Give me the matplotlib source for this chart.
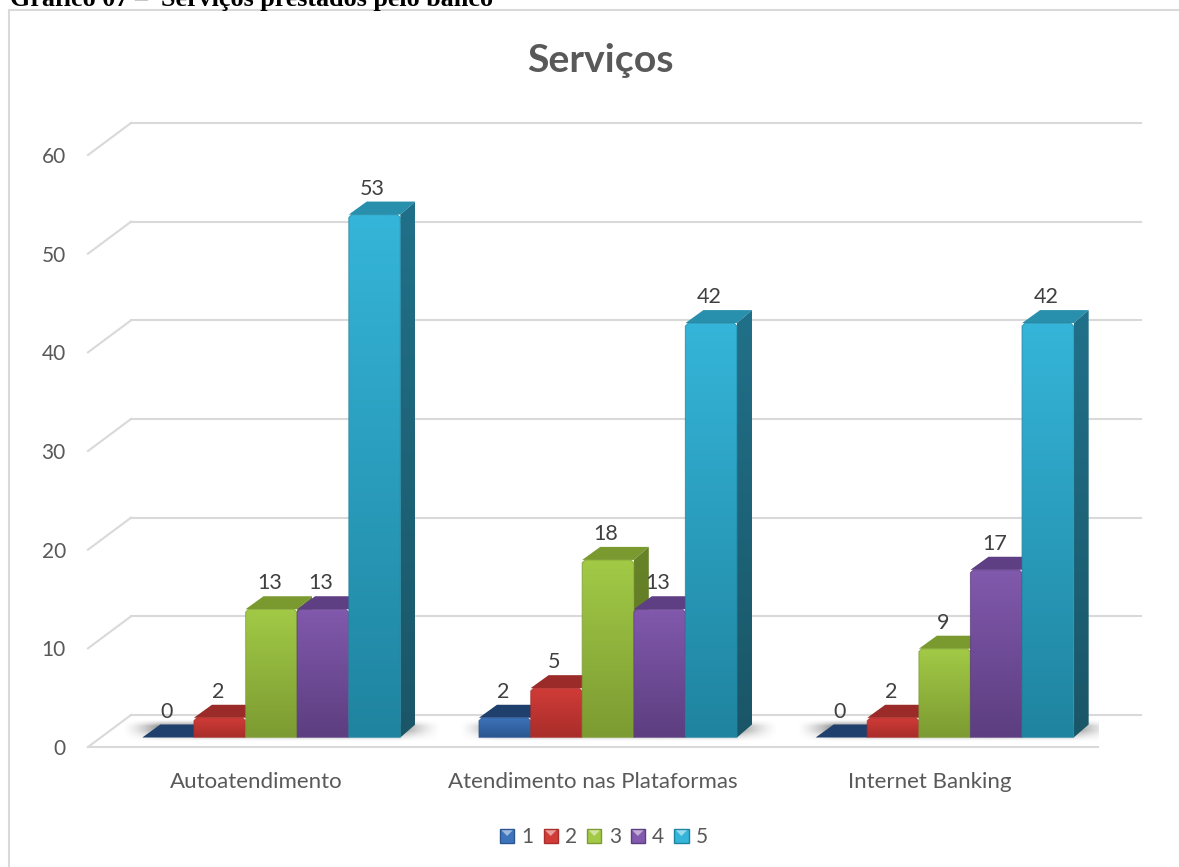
import numpy as np
import matplotlib
matplotlib.use('Agg')
import matplotlib.pyplot as plt
from matplotlib.colors import to_rgb
from matplotlib.legend_handler import HandlerBase
from matplotlib.patches import Patch, Polygon, Rectangle

categorias = ['Autoatendimento', 'Atendimento nas Plataformas', 'Internet Banking']
notas = ['1', '2', '3', '4', '5']
valores_1 = [0, 2, 0]
valores_2 = [2, 5, 2]
valores_3 = [13, 18, 9]
valores_4 = [13, 13, 17]
valores_5 = [53, 42, 42]
ticks_y = [0, 10, 20, 30, 40, 50, 60]

# claro, escuro, tampa, lateral clara, lateral escura
cores = {
    '1': ('#3d74bb', '#2b5690', '#1f3f6c', '#24497a', '#1c3a60'),
    '2': ('#d13c38', '#a92d2a', '#9a2b28', '#8a2523', '#761f1e'),
    '3': ('#a2ca46', '#7c9b32', '#7a9a30', '#688429', '#5a7223'),
    '4': ('#8159ad', '#5d3e80', '#5f3f84', '#503670', '#432d5f'),
    '5': ('#35b5d9', '#1f84a0', '#2890ad', '#217089', '#1a5667'),
}

plt.rcParams['font.family'] = ['Lato', 'DejaVu Sans']

L, A = 1179, 867
fig = plt.figure(figsize=(L / 100, A / 100), dpi=100)
ax = fig.add_axes([88 / L, 1 - 747 / A, 1010 / L, 592 / A])
ax.patch.set_alpha(0)

px_x = 3 / 1010      # unidade de x por pixel
px_y = 60 / 592      # unidade de y por pixel
larg = 51.6 * px_x
desl_x, base = 15 * px_x, 9.5 * px_y
prof_x, prof_y = 15 * px_x, 13 * px_y
fundo_x, fundo_y = 43 * px_x, 32 * px_y


def degrade(verts, c1, c2, z):
    # preenche o poligono com um degrade vertical
    verts = np.array(verts)
    rgb = np.linspace(to_rgb(c1), to_rgb(c2), 64)[:, None, :]
    im = ax.imshow(rgb, aspect='auto', zorder=z, interpolation='bilinear',
                   extent=[verts[:, 0].min(), verts[:, 0].max(), verts[:, 1].min(), verts[:, 1].max()])
    im.set_clip_path(Polygon(verts, transform=ax.transData))


def barra(x0, v, cor, z):
    claro, escuro, tampa, lat1, lat2 = cor
    x1 = x0 + larg
    y1 = base + v
    px, py = prof_x, prof_y
    ax.add_patch(Polygon([(x0, y1), (x0 + px * 1.2, y1 + py), (x1 + px, y1 + py), (x1, y1)],
                         fc=tampa, ec='none', zorder=z, clip_on=False))
    if v == 0:
        return
    degrade([(x1, base), (x1 + px, base + py), (x1 + px, y1 + py), (x1, y1)], lat1, lat2, z)
    cx, cy = 3 * px_x, 3 * px_y
    frente = [(x0, base), (x0, y1 - cy), (x0 + cx, y1), (x1 - cx, y1), (x1, y1 - cy), (x1, base)]
    degrade(frente, claro, escuro, z + 0.1)
    ax.add_patch(Polygon(frente, fc='none', ec=escuro, lw=0.8, alpha=0.7, zorder=z + 0.2, clip_on=False))


def sombra(x0):
    # sombra difusa no piso, embaixo de cada grupo
    xs = np.linspace(0, 1, 200)
    ys = np.linspace(0, 1, 40)
    ax_x = np.clip(np.minimum(xs / 0.12, (1 - xs) / 0.14), 0, 1)
    ax_y = np.clip(np.minimum(ys / 0.5, (1 - ys) / 0.3), 0, 1)
    img = np.zeros((40, 200, 4))
    img[..., :3] = 0.35
    img[..., 3] = (np.outer(ax_y, ax_x) ** 1.5) * 0.7
    ax.imshow(img, aspect='auto', zorder=2, origin='lower', interpolation='bilinear',
              extent=[x0 - 20 * px_x, x0 + 300 * px_x, base - 5 * px_y, base + 17 * px_y])


# paredes e piso
cor_grade = '#d9d9d9'
for t in ticks_y:
    ax.plot([0, fundo_x], [t, t + fundo_y], color=cor_grade, lw=1.5, zorder=1, clip_on=False)
    ax.plot([fundo_x, 3 + fundo_x], [t + fundo_y, t + fundo_y], color=cor_grade, lw=1.5, zorder=1, clip_on=False)
ax.plot([0, 3], [0, 0], color=cor_grade, lw=1.5, zorder=1, clip_on=False)

series = [valores_1, valores_2, valores_3, valores_4, valores_5]
z = 3
for i in range(len(categorias)):
    inicio = i + 0.5 - 2.5 * larg + desl_x
    sombra(inicio)
    for j, serie in enumerate(series):
        x0 = inicio + j * larg
        barra(x0, serie[i], cores[notas[j]], z)
        z += 1
        ax.annotate(str(serie[i]), (x0 + larg / 2, base + serie[i]), xytext=(-2, 26),
                    textcoords='offset pixels', ha='center', va='center',
                    fontsize=15.5, color='#404040', zorder=50, annotation_clip=False)

ax.set_xlim(0, 3)
ax.set_ylim(0, 60)
ax.set_xticks([0.5, 1.5, 2.5])
ax.set_xticklabels(categorias)
ax.set_yticks(ticks_y)
ax.tick_params(length=0, labelsize=15, labelcolor='#595959')
ax.tick_params(axis='x', pad=18, labelsize=16)
ax.tick_params(axis='y', pad=16)
for s in ax.spines.values():
    s.set_visible(False)

fig.text(600 / L, 1 - 60 / A, 'Serviços', ha='center', va='center', fontsize=28.3, fontweight='bold', color='#595959')


class QuadradoLegenda(HandlerBase):
    # quadradinho com chanfro, no estilo dos marcadores 3D
    def create_artists(self, legend, orig, xd, yd, w, h, fs, trans):
        c = np.array(orig.get_facecolor()[:3])
        q = Rectangle((xd, yd), w, h, fc=c, ec=orig.get_edgecolor(), lw=1, transform=trans)
        tri = Polygon([(xd + w * 0.1, yd + h * 0.9), (xd + w * 0.9, yd + h * 0.9), (xd + w * 0.5, yd + h * 0.5)],
                      fc=c * 0.5 + 0.5, ec='none', transform=trans)
        return [q, tri]


alcas = [Patch(fc=cores[n][0], ec=cores[n][1], label=n) for n in notas]
fig.legend(handles=alcas, loc='center', bbox_to_anchor=(604 / L, 1 - 837 / A), ncol=5, frameon=False,
           fontsize=15, labelcolor='#595959', handlelength=0.68, handleheight=0.68, handletextpad=0.35,
           columnspacing=0.48, handler_map={Patch: QuadradoLegenda()})

# moldura do grafico e legenda do documento
fig.add_artist(Rectangle((9 / L, -0.01), 1.1, 1 - 10 / A + 0.01, transform=fig.transFigure,
                         fc='none', ec='#d9d9d9', lw=1.5))
fig.text(10 / L, 1 - 6 / A, 'Gráfico 07 –  Serviços prestados pelo banco', family='Liberation Serif',
         fontweight='bold', fontsize=18.8, color='black', va='baseline')

fig.savefig('out.png', dpi=100)
